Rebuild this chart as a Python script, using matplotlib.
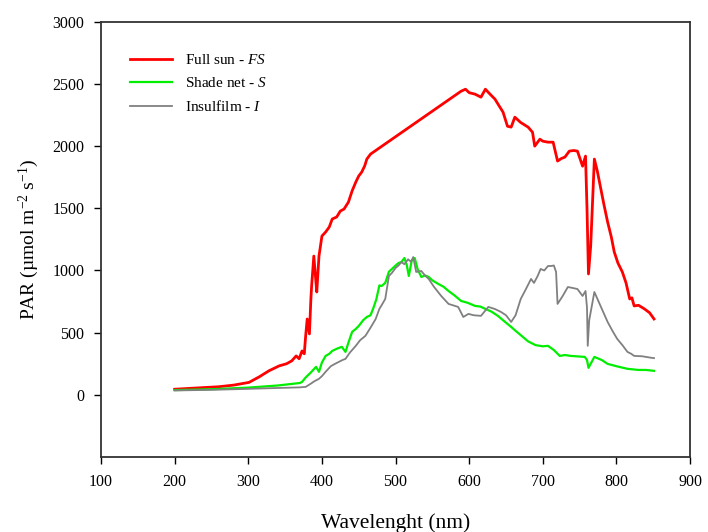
import matplotlib
matplotlib.use("Agg")
import matplotlib.pyplot as plt

plt.rcParams["font.family"] = ["Liberation Serif", "DejaVu Serif"]
plt.rcParams["mathtext.fontset"] = "custom"
plt.rcParams["mathtext.rm"] = "Liberation Serif"
plt.rcParams["mathtext.it"] = "Liberation Serif:italic"

# Full sun - FS
fs_wl = [200, 230, 260, 280, 301, 315, 328, 342, 352, 359, 365, 369, 373, 376, 378,
         380, 383, 385, 386, 389, 391, 393, 396, 400, 405, 410, 414, 420, 425, 430,
         436, 441, 446, 450, 454, 458, 461, 466,
         589, 595, 600, 608, 616, 622, 628, 635, 640, 646, 652, 657, 662, 670, 680,
         686, 689, 696, 700, 707, 714, 720, 725, 730, 736, 742, 747, 754, 758, 760,
         762, 765, 770, 774, 778, 783, 788, 793, 797, 802, 808, 813, 818, 821, 824,
         830, 838, 845, 851]
fs_val = [45, 55, 65, 78, 100, 145, 193, 233, 250, 273, 313, 290, 353, 330, 480,
          610, 490, 771, 875, 1116, 970, 827, 1116, 1277, 1309, 1350, 1414, 1430, 1478, 1494,
          1550, 1640, 1711, 1760, 1791, 1840, 1896, 1936,
          2442, 2458, 2430, 2418, 2394, 2458, 2420, 2378, 2330, 2273, 2160, 2153, 2233, 2190, 2153,
          2112, 2000, 2056, 2040, 2032, 2032, 1880, 1900, 1912, 1960, 1965, 1960, 1839, 1920, 1500,
          972, 1197, 1896, 1800, 1679, 1530, 1390, 1270, 1149, 1060, 988, 900, 771, 780, 715,
          720, 691, 660, 610]

# Shade net - S
s_wl = [200, 250, 300, 340, 370, 373, 378, 385, 392, 396, 400, 405, 410, 414, 420,
        427, 432, 436, 441, 446, 450, 456, 461, 466, 470, 474, 478, 481, 486, 491,
        495, 500, 504, 508, 512, 515, 518, 522, 526, 530, 535, 540, 545, 550, 558,
        565, 572, 580, 589, 598, 608, 615, 622, 630, 639, 648, 657, 662, 670, 680,
        690, 700, 707, 715, 723, 730, 738, 745, 757, 760, 762, 765, 770, 780, 788,
        800, 815, 830, 840, 851]
s_val = [38, 45, 58, 75, 95, 104, 140, 180, 225, 185, 260, 313, 330, 353, 370,
         386, 345, 420, 506, 530, 554, 600, 626, 640, 700, 771, 880, 875, 900, 990,
         1012, 1040, 1060, 1068, 1100, 1050, 956, 1080, 1100, 1010, 948, 960, 948, 920, 892,
         870, 835, 800, 755, 740, 715, 710, 691, 670, 635, 590, 546, 520, 480, 430,
         400, 390, 394, 360, 313, 320, 313, 310, 305, 280, 217, 250, 305, 280, 249,
         230, 209, 200, 200, 193]

# Insulfilm - I
i_wl = [200, 250, 300, 340, 370, 378, 385, 390, 396, 400, 405, 412, 418, 423, 428,
        432, 438, 446, 452, 459, 466, 473, 478, 481, 486, 491, 495, 500, 504, 508,
        512, 517, 521, 524, 528, 535, 540, 545, 552, 562, 572, 578, 585, 592, 599,
        606, 616, 626, 635, 643, 650, 657, 663, 670, 677, 684, 688, 693, 697, 702,
        707, 711, 715, 718, 720, 727, 734, 740, 747, 754, 758, 760, 761, 763, 770,
        778, 788, 795, 801, 808, 815, 820, 824, 835, 845, 851]
i_val = [35, 40, 48, 55, 60, 64, 90, 110, 129, 150, 185, 230, 250, 265, 280,
         289, 340, 394, 440, 474, 540, 610, 691, 720, 771, 956, 980, 1020, 1040, 1068,
         1050, 1090, 1070, 1108, 988, 996, 960, 932, 870, 795, 731, 720, 707, 626, 651,
         640, 635, 707, 690, 667, 640, 586, 640, 771, 850, 932, 900, 956, 1012, 1000,
         1036, 1036, 1040, 988, 731, 795, 867, 860, 851, 795, 835, 700, 394, 600, 827,
         720, 586, 510, 450, 400, 345, 330, 313, 310, 300, 295]

fig = plt.figure(figsize=(7.08, 5.32), dpi=100)
ax = fig.add_axes([0.1427, 0.141, 0.832, 0.818])

ax.plot(fs_wl, fs_val, color="#ff0000", lw=2.0, label="Full sun - $\\it{FS}$")
ax.plot(s_wl, s_val, color="#00ee00", lw=1.6, label="Shade net - $\\it{S}$")
ax.plot(i_wl, i_val, color="#808080", lw=1.3, label="Insulfilm - $\\it{I}$")

ax.set_xlim(100, 900)
ax.set_ylim(-500, 3000)
ax.set_xticks(range(100, 901, 100))
ax.set_yticks(range(0, 3001, 500))
ax.tick_params(direction="out", length=5, width=1, labelsize=11.5, pad=7)
for s in ax.spines.values():
    s.set_linewidth(1.3)
    s.set_color("#333333")

ax.set_xlabel("Wavelenght (nm)", fontsize=15.5, labelpad=17)
ax.set_ylabel("PAR (µmol m$^{-2}$ s$^{-1}$)", fontsize=14, labelpad=8)

ax.legend(loc="upper left", bbox_to_anchor=(0.025, 0.96), frameon=False,
          fontsize=11, handlelength=2.8, labelspacing=0.6)

fig.savefig("out.png", dpi=100)
